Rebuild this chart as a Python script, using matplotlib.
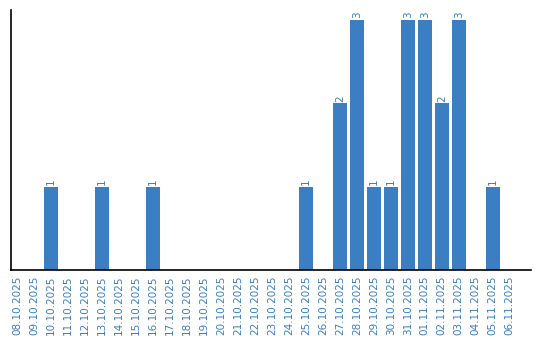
import matplotlib

matplotlib.use("Agg")
import matplotlib.pyplot as plt

BLUE = "#3b7ec1"

dates = [
    "08.10.2025", "09.10.2025", "10.10.2025", "11.10.2025", "12.10.2025",
    "13.10.2025", "14.10.2025", "15.10.2025", "16.10.2025", "17.10.2025",
    "18.10.2025", "19.10.2025", "20.10.2025", "21.10.2025", "22.10.2025",
    "23.10.2025", "24.10.2025", "25.10.2025", "26.10.2025", "27.10.2025",
    "28.10.2025", "29.10.2025", "30.10.2025", "31.10.2025", "01.11.2025",
    "02.11.2025", "03.11.2025", "04.11.2025", "05.11.2025", "06.11.2025",
]
counts = [0, 0, 1, 0, 0, 1, 0, 0, 1, 0,
          0, 0, 0, 0, 0, 0, 0, 1, 0, 2,
          3, 1, 1, 3, 3, 2, 3, 0, 1, 0]

fig = plt.figure(figsize=(5.4, 3.4), dpi=100)
ax = fig.add_axes([0.0204, 0.206, 0.9626, 0.7646])

x = list(range(len(dates)))
ax.bar(x, counts, width=0.82, color=BLUE)
for xi, v in zip(x, counts):
    if v > 0:
        ax.text(xi, v + 0.02, str(v), rotation=90, ha="center", va="bottom",
                fontsize=7.5, color=BLUE)

ax.set_xlim(-0.35, 30.24)
ax.set_ylim(0, 3.12)
ax.set_xticks(x)
ax.set_xticklabels(dates, rotation=90, fontsize=7.5, color=BLUE)
ax.tick_params(axis="x", length=0, pad=4)
ax.set_yticks([])
ax.spines["top"].set_visible(False)
ax.spines["right"].set_visible(False)
ax.spines["left"].set_linewidth(1.2)
ax.spines["bottom"].set_linewidth(1.2)

fig.savefig("out.png", dpi=100)
